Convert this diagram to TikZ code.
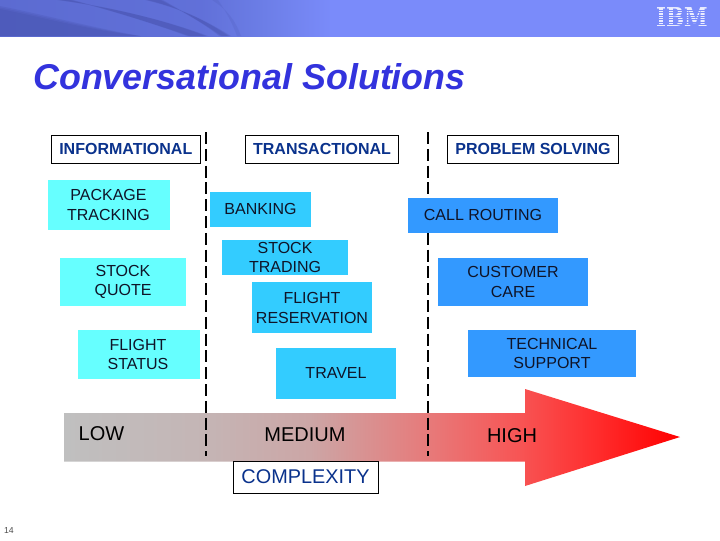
\documentclass[tikz,border=0pt]{standalone}
\usepackage{fontspec}
\setmainfont{Liberation Sans}
\newfontfamily\logofont{DejaVu Serif}
\definecolor{banner}{RGB}{122,139,250}
\definecolor{swdark}{RGB}{66,76,165}
\definecolor{titleblue}{RGB}{51,51,221}
\definecolor{headblue}{RGB}{10,50,140}
\definecolor{cyanbox}{RGB}{102,255,255}
\definecolor{skybox}{RGB}{51,204,255}
\definecolor{bluebox}{RGB}{51,153,255}
\definecolor{inkbox}{RGB}{15,20,40}
\pgfdeclarehorizontalshading{riskgrad}{100bp}{
 rgb(0bp)=(0.75,0.75,0.75); rgb(25bp)=(0.75,0.75,0.75);
 rgb(36.4bp)=(0.77,0.71,0.71); rgb(45bp)=(0.80,0.65,0.65);
 rgb(55bp)=(0.91,0.47,0.47); rgb(62bp)=(0.97,0.33,0.33);
 rgb(68bp)=(1,0.18,0.18); rgb(75bp)=(1,0,0); rgb(100bp)=(1,0,0)}
\pgfdeclarehorizontalshading{bannergrad}{100bp}{
 rgb(0bp)=(0.36,0.42,0.82); rgb(25bp)=(0.36,0.42,0.82);
 rgb(39bp)=(0.38,0.44,0.85); rgb(43bp)=(0.42,0.49,0.90); rgb(48bp)=(0.478,0.545,0.98); rgb(100bp)=(0.478,0.545,0.98)}
\tikzset{
 headbox/.style={draw=black,line width=0.7pt,fill=white,text=headblue,font=\bfseries\fontsize{12}{14}\selectfont,inner sep=0pt,align=center,minimum height=21pt},
 tasktext/.style={text=inkbox,font=\fontsize{12}{14.6}\selectfont,inner sep=0pt,align=center},
 divider/.style={black,line width=1.5pt,dash pattern=on 9pt off 3.6pt},
 levellabel/.style={text=black,font=\fontsize{15}{18}\selectfont,inner sep=0pt},
 swoosh/.style={fill=swdark,opacity=.2},
}
% name, x0, y0, x1, y1, colour, text x, text y, text
\newcommand{\taskrect}[9]{%
 \fill[#6] (#2,#3) rectangle (#4,#5);
 \node[tasktext] (#1) at (#7,#8) {#9};}
\begin{document}
\begin{tikzpicture}[x=0.75pt,y=-0.75pt]
\useasboundingbox (0,0) rectangle (720,540);
\fill[white] (0,0) rectangle (720,540);
% banner
\shade[shading=bannergrad] (0,0) rectangle (720,36);
\begin{scope}
\clip (0,0) rectangle (330,36);
\foreach \w in {0,1.5,3}{
 \fill[swoosh] (0,9-\w) .. controls (45,18-\w) and (90,30-\w) .. (140,36) -- (0,36) -- cycle;
 \fill[swoosh] (60-\w,0) .. controls (110,7) and (165,20) .. (205+\w,36) -- (190-\w,36) .. controls (155,24) and (110,10) .. (70+\w,0) -- cycle;
 \fill[swoosh] (148-\w,0) .. controls (180,8) and (205,20) .. (228+\w,36) -- (222-\w,36) .. controls (205,24) and (180,10) .. (160+\w,0) -- cycle;
}
\fill[swoosh,opacity=.15] (212,0) .. controls (228,10) and (236,22) .. (241,36) -- (237,36) .. controls (232,22) and (225,10) .. (218,0) -- cycle;
\end{scope}
% IBM logo
\node[text=white,font=\logofont\bfseries\fontsize{19.5}{20}\selectfont,inner sep=0pt,xscale=.82,opacity=.85] (ibm) at (682,17.5) {IBM};
\foreach \yy in {9.8,12.2,14.6,17,19.4,21.8,24.2}
 \fill[banner] (652,\yy) rectangle (712,\yy+0.8);
% title
\node[text=titleblue,font=\bfseries\itshape\fontsize{26.9}{30}\selectfont,inner sep=0pt,anchor=west] (title) at (33,77) {Conversational Solutions};
% column heads
\node[headbox,minimum width=111.8pt] (h1) at (125.8,149.2) {INFORMATIONAL};
\node[headbox,minimum width=115pt] (h2) at (322,149.2) {TRANSACTIONAL};
\node[headbox,minimum width=128.8pt] (h3) at (533,149.2) {PROBLEM SOLVING};
% complexity arrow
\shade[shading=riskgrad] (64,413) -- (525,413) -- (525,389) -- (680,437) -- (525,486) -- (525,461.5) -- (64,461.5) -- cycle;
% dividers
\coordinate (d1t) at (205.5,132);
\coordinate (d1b) at (205.5,456);
\coordinate (d2t) at (428,132);
\coordinate (d2b) at (428,456);
\draw[divider] (d1t) -- (d1b);
\draw[divider] (d2t) -- (d2b);
% task boxes
\taskrect{t1}{48}{180}{170}{230}{cyanbox}{108.5}{205}{PACKAGE\\TRACKING}
\taskrect{t2}{60}{258}{186}{306}{cyanbox}{123}{282}{STOCK\\QUOTE}
\taskrect{t3}{78}{330}{200}{379}{cyanbox}{138}{354.5}{FLIGHT\\STATUS}
\taskrect{t4}{210}{192}{311}{227}{skybox}{260.5}{209}{BANKING}
\taskrect{t5}{222}{240}{348}{275}{skybox}{285}{257.5}{STOCK\\TRADING}
\taskrect{t6}{252}{282}{372}{333}{skybox}{312}{308}{FLIGHT\\RESERVATION}
\taskrect{t7}{276}{348}{396}{398.5}{skybox}{336}{373}{TRAVEL}
\taskrect{t8}{408}{198}{558}{233}{bluebox}{483}{215}{CALL ROUTING}
\taskrect{t9}{438}{258}{588}{306}{bluebox}{513}{282}{CUSTOMER\\CARE}
\taskrect{t10}{468}{330}{636}{377}{bluebox}{552}{353.5}{TECHNICAL\\SUPPORT}
% levels
\node[levellabel] (low) at (101.5,433.5) {LOW};
\node[levellabel] (med) at (305,435) {MEDIUM};
\node[levellabel] (high) at (512,436) {HIGH};
\node[draw=black,line width=0.7pt,fill=white,text=headblue,font=\fontsize{14.9}{18}\selectfont,inner sep=0pt,minimum width=108.8pt,minimum height=24pt] (cx) at (305.5,477) {COMPLEXITY};
\node[text=black!70,font=\fontsize{6.5}{8}\selectfont,inner sep=0pt] (pg) at (9,531) {14};
\end{tikzpicture}
\end{document}
